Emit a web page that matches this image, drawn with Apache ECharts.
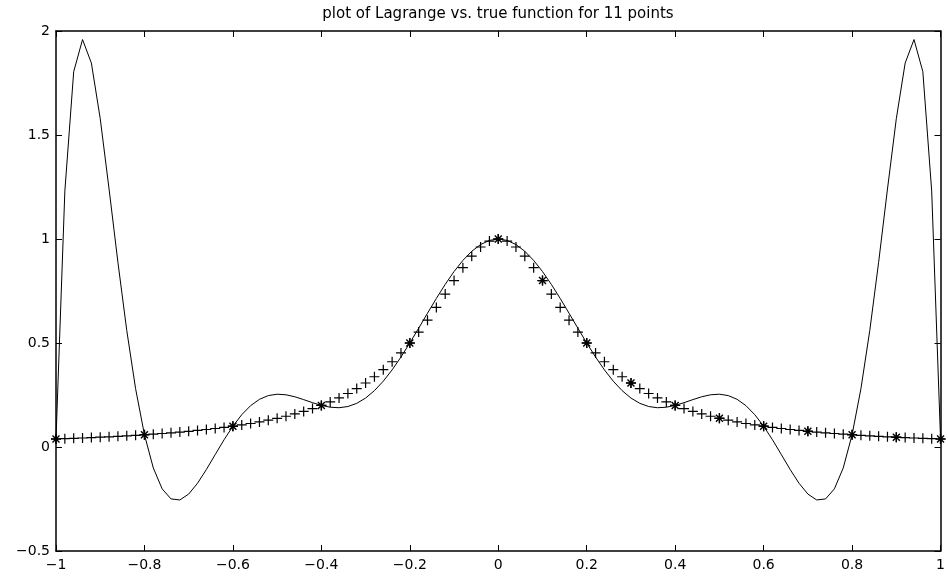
<!DOCTYPE html>
<html>
<head>
<meta charset="utf-8">
<script src="https://cdn.jsdelivr.net/npm/echarts@6/dist/echarts.min.js"></script>
<style>
  html, body { margin: 0; padding: 0; background: #fff; }
  #main { width: 948px; height: 577px; }
</style>
</head>
<body>
<div id="main"></div>
<script>
// sample points, x = -1 : 0.02 : 1
var xs = [
  -1.00, -0.98, -0.96, -0.94, -0.92, -0.90, -0.88, -0.86, -0.84, -0.82,
  -0.80, -0.78, -0.76, -0.74, -0.72, -0.70, -0.68, -0.66, -0.64, -0.62,
  -0.60, -0.58, -0.56, -0.54, -0.52, -0.50, -0.48, -0.46, -0.44, -0.42,
  -0.40, -0.38, -0.36, -0.34, -0.32, -0.30, -0.28, -0.26, -0.24, -0.22,
  -0.20, -0.18, -0.16, -0.14, -0.12, -0.10, -0.08, -0.06, -0.04, -0.02,
   0.00,
   0.02,  0.04,  0.06,  0.08,  0.10,  0.12,  0.14,  0.16,  0.18,  0.20,
   0.22,  0.24,  0.26,  0.28,  0.30,  0.32,  0.34,  0.36,  0.38,  0.40,
   0.42,  0.44,  0.46,  0.48,  0.50,  0.52,  0.54,  0.56,  0.58,  0.60,
   0.62,  0.64,  0.66,  0.68,  0.70,  0.72,  0.74,  0.76,  0.78,  0.80,
   0.82,  0.84,  0.86,  0.88,  0.90,  0.92,  0.94,  0.96,  0.98,  1.00
];

// Lagrange polynomial (solid line)
var lagrange = [
  0.0385, 1.2303, 1.8044, 1.9589, 1.8458, 1.5787, 1.2402, 0.8881, 0.5604, 0.2802,
  0.0588, -0.1007, -0.2013, -0.2496, -0.2546, -0.2262, -0.1743, -0.1083, -0.0363, 0.0349,
  0.1000, 0.1554, 0.1987, 0.2292, 0.2472, 0.2538, 0.2510, 0.2415, 0.2278, 0.2131,
  0.2000, 0.1912, 0.1888, 0.1946, 0.2099, 0.2353, 0.2710, 0.3165, 0.3708, 0.4326,
  0.5000, 0.5710, 0.6432, 0.7142, 0.7817, 0.8434, 0.8971, 0.9409, 0.9733, 0.9933,
  1.0000,
  0.9933, 0.9733, 0.9409, 0.8971, 0.8434, 0.7817, 0.7142, 0.6432, 0.5710, 0.5000,
  0.4326, 0.3708, 0.3165, 0.2710, 0.2353, 0.2099, 0.1946, 0.1888, 0.1912, 0.2000,
  0.2131, 0.2278, 0.2415, 0.2510, 0.2538, 0.2472, 0.2292, 0.1987, 0.1554, 0.1000,
  0.0349, -0.0363, -0.1083, -0.1743, -0.2262, -0.2546, -0.2496, -0.2013, -0.1007, 0.0588,
  0.2802, 0.5604, 0.8881, 1.2402, 1.5787, 1.8458, 1.9589, 1.8044, 1.2303, 0.0385
];

// true function ('+' markers)
var trueVals = [
  0.0385, 0.0400, 0.0416, 0.0433, 0.0451, 0.0471, 0.0491, 0.0513, 0.0536, 0.0561,
  0.0588, 0.0617, 0.0648, 0.0681, 0.0716, 0.0755, 0.0796, 0.0841, 0.0890, 0.0943,
  0.1000, 0.1063, 0.1131, 0.1206, 0.1289, 0.1379, 0.1479, 0.1590, 0.1712, 0.1848,
  0.2000, 0.2169, 0.2358, 0.2571, 0.2809, 0.3077, 0.3378, 0.3717, 0.4098, 0.4525,
  0.5000, 0.5525, 0.6098, 0.6711, 0.7353, 0.8000, 0.8621, 0.9174, 0.9615, 0.9901,
  1.0000,
  0.9901, 0.9615, 0.9174, 0.8621, 0.8000, 0.7353, 0.6711, 0.6098, 0.5525, 0.5000,
  0.4525, 0.4098, 0.3717, 0.3378, 0.3077, 0.2809, 0.2571, 0.2358, 0.2169, 0.2000,
  0.1848, 0.1712, 0.1590, 0.1479, 0.1379, 0.1289, 0.1206, 0.1131, 0.1063, 0.1000,
  0.0943, 0.0890, 0.0841, 0.0796, 0.0755, 0.0716, 0.0681, 0.0648, 0.0617, 0.0588,
  0.0561, 0.0536, 0.0513, 0.0491, 0.0471, 0.0451, 0.0433, 0.0416, 0.0400, 0.0385
];

// '*' markers
var starX = [-1, -0.8, -0.6, -0.4, -0.2, 0, 0.1, 0.2, 0.3, 0.4, 0.5, 0.6, 0.7, 0.8, 0.9, 1];
var starY = [0.0385, 0.0588, 0.1000, 0.2000, 0.5000, 1.0000, 0.8000, 0.5000, 0.3077, 0.2000,
             0.1379, 0.1000, 0.0755, 0.0588, 0.0471, 0.0385];

var titleText = 'plot of Lagrange vs. true function for 11 points';
var FONT = 'DejaVu Sans';

function pairs(a, b) {
  var out = [];
  for (var i = 0; i < a.length; i++) out.push([a[i], b[i]]);
  return out;
}
function fmt(v) {
  return String(Math.round(v * 10) / 10).replace('-', '\u2212');
}

var myChart = echarts.init(document.getElementById('main'));

var tickStyle = { show: true, inside: true, length: 6, lineStyle: { color: '#000', width: 1 } };
var lineStyle = { show: true, onZero: false, lineStyle: { color: '#000', width: 1.5 } };
var labelStyle = { color: '#000', fontSize: 14, fontFamily: FONT, formatter: fmt };

var option = {
  animation: false,
  backgroundColor: '#fff',
  grid: { left: 56, right: 7, top: 31, bottom: 26, containLabel: false },
  graphic: [{
    type: 'text', x: 498, y: 14,
    style: { text: titleText, fill: '#000', font: '15px "DejaVu Sans"', textAlign: 'center', textVerticalAlign: 'middle' }
  }],
  xAxis: [
    { type: 'value', position: 'bottom', min: -1, max: 1, interval: 0.2,
      axisLine: lineStyle, axisTick: tickStyle, splitLine: { show: false },
      axisLabel: Object.assign({ margin: 7 }, labelStyle) },
    { type: 'value', position: 'top', min: -1, max: 1, interval: 0.2,
      axisLine: lineStyle, axisTick: tickStyle, splitLine: { show: false },
      axisLabel: { show: false } }
  ],
  yAxis: [
    { type: 'value', position: 'left', min: -0.5, max: 2, interval: 0.5,
      axisLine: lineStyle, axisTick: tickStyle, splitLine: { show: false },
      axisLabel: Object.assign({ margin: 6 }, labelStyle) },
    { type: 'value', position: 'right', min: -0.5, max: 2, interval: 0.5,
      axisLine: lineStyle, axisTick: tickStyle, splitLine: { show: false },
      axisLabel: { show: false } }
  ],
  series: [
    {
      name: 'Lagrange', type: 'line', xAxisIndex: 0, yAxisIndex: 0,
      data: pairs(xs, lagrange), showSymbol: false, symbol: 'none',
      lineStyle: { color: '#000', width: 1 }, z: 2
    },
    {
      name: 'true', type: 'scatter', xAxisIndex: 0, yAxisIndex: 0,
      data: pairs(xs, trueVals),
      symbol: 'path://M0,5L10,5M5,0L5,10', symbolSize: 10,
      itemStyle: { color: 'rgba(0,0,0,0)', borderColor: '#000', borderWidth: 1.2, opacity: 1 }, z: 3
    },
    {
      name: 'nodes', type: 'scatter', xAxisIndex: 0, yAxisIndex: 0,
      data: pairs(starX, starY),
      symbol: 'path://M0,5L10,5M5,0L5,10M1.5,1.5L8.5,8.5M8.5,1.5L1.5,8.5', symbolSize: 10,
      itemStyle: { color: 'rgba(0,0,0,0)', borderColor: '#000', borderWidth: 1.4, opacity: 1 }, z: 4
    }
  ]
};

myChart.setOption(option);
window.addEventListener('resize', function () {
  myChart.resize();
});
</script>
</body>
</html>
